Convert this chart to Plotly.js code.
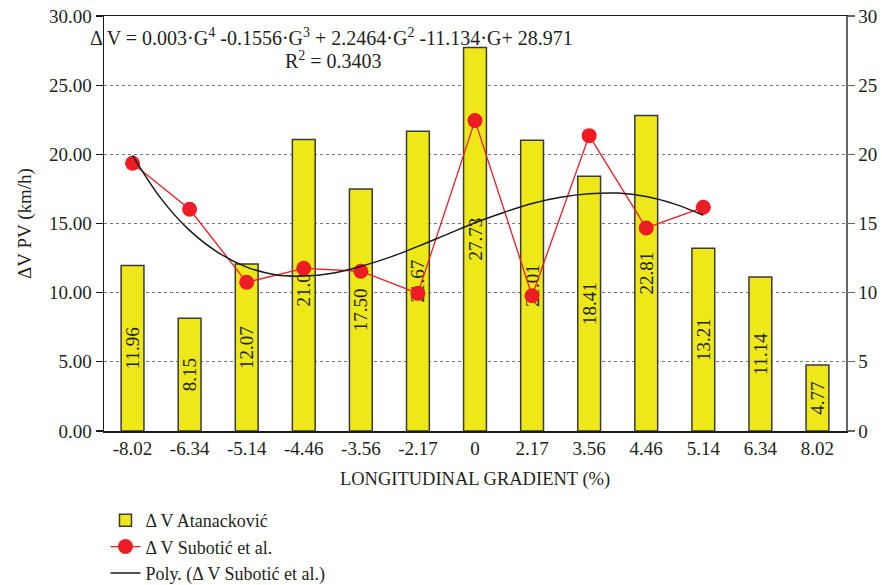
<!DOCTYPE html>
<html>
<head>
<meta charset="utf-8">
<script src="https://cdn.plot.ly/plotly-3.0.1.min.js"></script>
<style>html,body{margin:0;padding:0;background:#fff;}#chart{width:882px;height:585px;}</style>
</head>
<body>
<div id="chart"></div>
<script>
// Category tick labels (longitudinal gradient, %)
const gradients = ["-8.02","-6.34","-5.14","-4.46","-3.56","-2.17","0","2.17","3.56","4.46","5.14","6.34","8.02"];
// ΔV Atanacković (bars)
const atanackovic = [11.96, 8.15, 12.07, 21.08, 17.50, 21.67, 27.73, 21.01, 18.41, 22.81, 13.21, 11.14, 4.77];
// ΔV Subotić et al. (red points) – first 11 categories
const subotic = [19.36, 16.03, 10.75, 11.76, 11.55, 9.95, 22.44, 9.78, 21.35, 14.68, 16.17];
// Polynomial trend curve (positions are category indices)
const polyPos = [0, 0.5, 1, 1.5, 2, 2.5, 3, 3.5, 4, 4.5, 5, 5.5, 6, 6.5, 7, 7.5, 8, 8.5, 9, 9.5, 10];
const polyVal = [19.93, 16.8, 14.5, 12.9, 11.85, 11.3, 11.2, 11.4, 11.9, 12.55, 13.35, 14.2, 15.05, 15.8, 16.45, 16.9, 17.15, 17.2, 16.95, 16.4, 15.6];

const catIdx = gradients.map((g, i) => i);
const FONT = '"Liberation Serif", "DejaVu Serif", serif';
const TXT = '#231f20';

const traces = [
  {
    type: 'bar', name: 'Δ V Atanacković',
    x: catIdx, y: atanackovic, width: 0.4,
    marker: {color: '#efe819', line: {color: '#3a3a3a', width: 1.5}},
    text: atanackovic.map(v => v.toFixed(2)),
    textposition: 'inside', insidetextanchor: 'middle', textangle: -90,
    constraintext: 'none',
    insidetextfont: {family: FONT, size: 19, color: TXT},
    cliponaxis: false, hoverinfo: 'skip'
  },
  {
    type: 'scatter', mode: 'lines+markers', name: 'Δ V Subotić et al.',
    x: catIdx.slice(0, subotic.length), y: subotic,
    line: {color: '#ee1c25', width: 1.3},
    marker: {color: '#ee1c25', size: 15},
    hoverinfo: 'skip'
  },
  {
    type: 'scatter', mode: 'lines', name: 'Poly. (Δ V Subotić et al.)',
    x: polyPos, y: polyVal, yaxis: 'y2',
    line: {color: '#1a1a1a', width: 1.5, shape: 'spline', smoothing: 1},
    hoverinfo: 'skip'
  }
];

const layout = {
  width: 882, height: 585,
  margin: {l: 104, r: 36, t: 16, b: 154},
  paper_bgcolor: '#fff', plot_bgcolor: '#fff',
  font: {family: FONT, size: 19, color: TXT},
  showlegend: true,
  bargap: 0.6,
  xaxis: {
    range: [-0.5, 12.5],
    tickmode: 'array', tickvals: catIdx, ticktext: gradients, tickangle: 0,
    ticks: '', showgrid: false, zeroline: false,
    showline: true, linecolor: '#1a1a1a', linewidth: 1.5, mirror: true,
    tickfont: {family: FONT, size: 19, color: TXT},
    title: {text: 'LONGITUDINAL GRADIENT (%)', font: {family: FONT, size: 18.5, color: TXT}, standoff: 14}
  },
  yaxis: {
    range: [0, 30], dtick: 5, tick0: 0, tickformat: '.2f',
    ticks: 'outside', ticklen: 7, tickcolor: '#1a1a1a', tickwidth: 1.2,
    showline: true, linecolor: '#1a1a1a', linewidth: 1.5,
    showgrid: true, gridcolor: '#777', griddash: 'dot', gridwidth: 1,
    zeroline: false,
    tickfont: {family: FONT, size: 19, color: TXT},
    title: {text: 'ΔV PV (km/h)', font: {family: FONT, size: 19, color: TXT}, standoff: 12}
  },
  yaxis2: {
    overlaying: 'y', side: 'right',
    range: [0, 30], dtick: 5, tick0: 0,
    ticks: 'outside', ticklen: 7, tickcolor: '#666', tickwidth: 1.2,
    showline: true, linecolor: '#666', linewidth: 1.5,
    showgrid: false, zeroline: false,
    tickfont: {family: FONT, size: 19, color: TXT}
  },
  legend: {
    xref: 'paper', yref: 'container',
    x: 0.002, y: 0.142, xanchor: 'left', yanchor: 'top',
    orientation: 'v', traceorder: 'normal',
    font: {family: FONT, size: 18, color: TXT},
    bgcolor: 'rgba(0,0,0,0)', itemwidth: 30, tracegroupgap: 0
  },
  annotations: [
    {
      xref: 'paper', yref: 'paper', x: -0.022, y: 0.949, xanchor: 'left', yanchor: 'middle',
      text: 'Δ V = 0.003·G<sup>4</sup> -0.1556·G<sup>3</sup> + 2.2464·G<sup>2</sup> -11.134·G+ 28.971',
      showarrow: false, font: {family: FONT, size: 20, color: TXT}
    },
    {
      xref: 'paper', yref: 'paper', x: 0.309, y: 0.893, xanchor: 'center', yanchor: 'middle',
      text: 'R<sup>2</sup> = 0.3403',
      showarrow: false, font: {family: FONT, size: 20, color: TXT}
    }
  ]
};

Plotly.newPlot('chart', traces, layout, {staticPlot: true, displayModeBar: false});
</script>
</body>
</html>
